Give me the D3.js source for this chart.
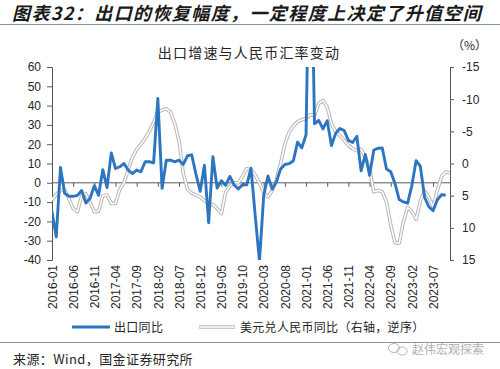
<!DOCTYPE html>
<html><head><meta charset="utf-8">
<script src="https://cdn.jsdelivr.net/npm/d3@7"></script>
<style>
html,body{margin:0;padding:0;background:#fff;}
svg{display:block;}
</style></head>
<body>
<svg id="chart" width="500" height="369"></svg>
<script>
// ---- data ----
const months = d3.range(95).map(i => `${2016 + Math.floor(i / 12)}-${String(i % 12 + 1).padStart(2, "0")}`);
// 出口同比 (%), 2016-01 .. 2023-10
const exportYoY = [
  -15, -28, 8, -5.5, -7, -7, -6.5, -4, -10.5, -8, -1.5, -6.5,
  6.8, -2.5, 15.5, 7.4, 8.3, 10, 6.6, 4.8, 6.6, 5.7, 10.9, 10.9,
  10.3, 43.7, -2.9, 11.7, 11.7, 10.9, 11.7, 9.5, 14, 14.5, 4.5, -4.4,
  9.1, -20.7, 13.5, -2.7, 1.1, -1.3, 3.3, -1.0, -3.2, -0.9, -1.1, 7.6,
  -17.2, -40.6, -6.6, 3.5, -3.3, 0.5, 7.2, 9.5, 9.9, 11.4, 21.1, 18.1,
  24.9, 154.9, 30.6, 32.3, 27.9, 32.2, 19.3, 25.6, 28.1, 27.1, 22.0, 20.9,
  24.1, 6.2, 14.7, 3.9, 16.9, 17.9, 18.0, 7.1, 5.7, -0.3, -8.7, -9.9,
  -10.5, -1.3, 11.5, 8.5, -7.5, -12.4, -14.5, -8.8, -6.2, -6.4
];
// 美元兑人民币同比 (%), right axis reversed, 2016-01 .. 2023-11
const usdCnyYoY = [
  5.7, 4.8, 4.2, 4.1, 5.5, 7.0, 7.5, 5.0, 4.7, 6.0, 7.5, 7.4,
  5.0, 4.9, 6.2, 6.2, 4.0, 3.0, 1.0, -1.0, -2.2, -3.0, -3.9, -5.0,
  -6.4, -8.0, -8.3, -8.5, -8.0, -6.2, -3.5, 1.5, 4.0, 4.6, 4.9, 5.2,
  5.8, 6.2, 6.4, 7.0, 7.8, 4.5, 3.5, 3.0, 3.0, 2.0, 0.8, 1.0,
  1.8, 3.0, 4.6, 5.2, 4.2, 2.5, 0.0, -3.0, -4.9, -5.8, -6.5, -6.8,
  -7.0, -7.6, -7.5, -9.3, -9.8, -8.8, -6.2, -5.0, -4.3, -3.6, -2.8, -2.3,
  -2.0, -2.2, -1.0, 0.8, 4.4, 4.2, 4.4, 6.0, 9.5, 12.3, 12.4, 9.0,
  6.8, 7.5, 8.7, 5.8, 4.3, 5.2, 6.7, 4.2, 2.0, 1.3, 1.5
];
const leftTicks = [-40, -30, -20, -10, 0, 10, 20, 30, 40, 50, 60];
const rightTicks = [-15, -10, -5, 0, 5, 10, 15];
const labelEvery = 5;

// ---- layout ----
const svg = d3.select("#chart");
const L = 52, R = 450, T = 67, B = 260;
const x = d3.scaleLinear().domain([0, months.length - 1]).range([L, R]);
const yL = d3.scaleLinear().domain([-40, 60]).range([B, T]);
const yR = d3.scaleLinear().domain([-15, 15]).range([T, B]);
const cjk = "'Noto Sans CJK SC', 'Noto Sans', sans-serif";
const num = "'Liberation Sans', Arial, sans-serif";
const axisCol = "#595959", textCol = "#262626";

// header
svg.append("text").attr("x", 12).attr("y", 20)
  .attr("font-family", cjk).attr("font-size", 18).attr("font-weight", "bold")
  .attr("font-style", "italic").attr("letter-spacing", 1.4).attr("fill", "#1a1a1a")
  .text("图表32：出口的恢复幅度，一定程度上决定了升值空间");
svg.append("line").attr("x1", 0).attr("x2", 500).attr("y1", 24.5).attr("y2", 24.5)
  .attr("stroke", "#8496a8").attr("stroke-width", 1.2);

// chart title
svg.append("text").attr("x", 249).attr("y", 58).attr("text-anchor", "middle")
  .attr("font-family", cjk).attr("font-size", 14).attr("letter-spacing", 1.2).attr("fill", textCol)
  .text("出口增速与人民币汇率变动");
svg.append("text").attr("x", 452).attr("y", 50)
  .attr("font-family", cjk).attr("font-size", 12).attr("fill", textCol)
  .text("（%）");

// axes
const fmt = d => String(d);
const gL = svg.append("g").attr("transform", `translate(${L},0)`)
  .call(d3.axisLeft(yL).tickValues(leftTicks).tickFormat(fmt).tickSize(5).tickPadding(6).tickSizeOuter(5));
const gR = svg.append("g").attr("transform", `translate(${R},0)`)
  .call(d3.axisRight(yR).tickValues(rightTicks).tickFormat(fmt).tickSize(4).tickPadding(8).tickSizeOuter(4));
[gL, gR].forEach(g => {
  g.selectAll("path,line").attr("stroke", axisCol);
  g.selectAll("text").attr("font-family", num).attr("font-size", 12).attr("fill", textCol);
});

const tickIdx = d3.range(0, months.length, labelEvery);
const gZ = svg.append("g").attr("transform", `translate(0,${yL(0)})`)
  .call(d3.axisBottom(x).tickValues(tickIdx).tickFormat("").tickSize(4).tickSizeOuter(0));
gZ.select("path").attr("d", `M${L},0H${R}`);
gZ.selectAll("path,line").attr("stroke", axisCol);

const gX = svg.append("g").attr("transform", `translate(0,${B + 5})`)
  .call(d3.axisBottom(x).tickValues(tickIdx).tickFormat(i => months[i]).tickSize(0).tickPadding(0));
gX.select(".domain").remove();
gX.selectAll("text").attr("font-family", num).attr("font-size", 12).attr("fill", textCol)
  .attr("text-anchor", "end").attr("dy", "0.35em").attr("transform", "rotate(-90)").attr("x", 0).attr("y", 0);

// clip
svg.append("clipPath").attr("id", "plotclip").append("rect")
  .attr("x", L).attr("y", T).attr("width", R - L).attr("height", B - T);

// grey double line (right axis, reversed)
const lineR = d3.line().x((d, i) => x(i)).y(d => yR(d));
const gp = svg.append("g").attr("clip-path", "url(#plotclip)");
gp.append("path").datum(usdCnyYoY).attr("d", lineR).attr("fill", "none")
  .attr("stroke", "#b8b8b8").attr("stroke-width", 3.6).attr("stroke-linejoin", "round");
gp.append("path").datum(usdCnyYoY).attr("d", lineR).attr("fill", "none")
  .attr("stroke", "#ffffff").attr("stroke-width", 1.5).attr("stroke-linejoin", "round");

// blue line
const lineL = d3.line().x((d, i) => x(i)).y(d => yL(d));
gp.append("path").datum(exportYoY).attr("d", lineL).attr("fill", "none")
  .attr("stroke", "#2e75c0").attr("stroke-width", 2.9).attr("stroke-linejoin", "round");

// legend
const ly = 327;
svg.append("line").attr("x1", 72).attr("x2", 110).attr("y1", ly).attr("y2", ly)
  .attr("stroke", "#2e75c0").attr("stroke-width", 2.9);
svg.append("text").attr("x", 114).attr("y", ly + 4.5).attr("font-family", cjk).attr("font-size", 12)
  .attr("letter-spacing", 0.3).attr("fill", textCol).text("出口同比");
svg.append("line").attr("x1", 199).attr("x2", 235).attr("y1", ly).attr("y2", ly)
  .attr("stroke", "#b8b8b8").attr("stroke-width", 3.6);
svg.append("line").attr("x1", 199.5).attr("x2", 234.5).attr("y1", ly).attr("y2", ly)
  .attr("stroke", "#fff").attr("stroke-width", 1.5);
svg.append("text").attr("x", 240).attr("y", ly + 4.5).attr("font-family", cjk).attr("font-size", 12)
  .attr("letter-spacing", 0.3).attr("fill", textCol).text("美元兑人民币同比（右轴，逆序）");

// footer
svg.append("line").attr("x1", 0).attr("x2", 500).attr("y1", 342.5).attr("y2", 342.5)
  .attr("stroke", "#8496a8").attr("stroke-width", 1);
svg.append("text").attr("x", 13).attr("y", 364).attr("font-family", cjk).attr("font-size", 13)
  .attr("letter-spacing", 0.4).attr("fill", textCol).text("来源：Wind，国金证券研究所");
// watermark
const wm = svg.append("g").attr("fill", "none").attr("stroke", "#b8b8b8").attr("stroke-width", 1);
wm.append("ellipse").attr("cx", 394).attr("cy", 348).attr("rx", 5.5).attr("ry", 4.5);
wm.append("ellipse").attr("cx", 402).attr("cy", 351).attr("rx", 5).attr("ry", 4);
svg.append("text").attr("x", 412).attr("y", 354).attr("font-family", cjk).attr("font-size", 12)
  .attr("fill", "#b0b0b0").text("赵伟宏观探索");
</script>
</body></html>
